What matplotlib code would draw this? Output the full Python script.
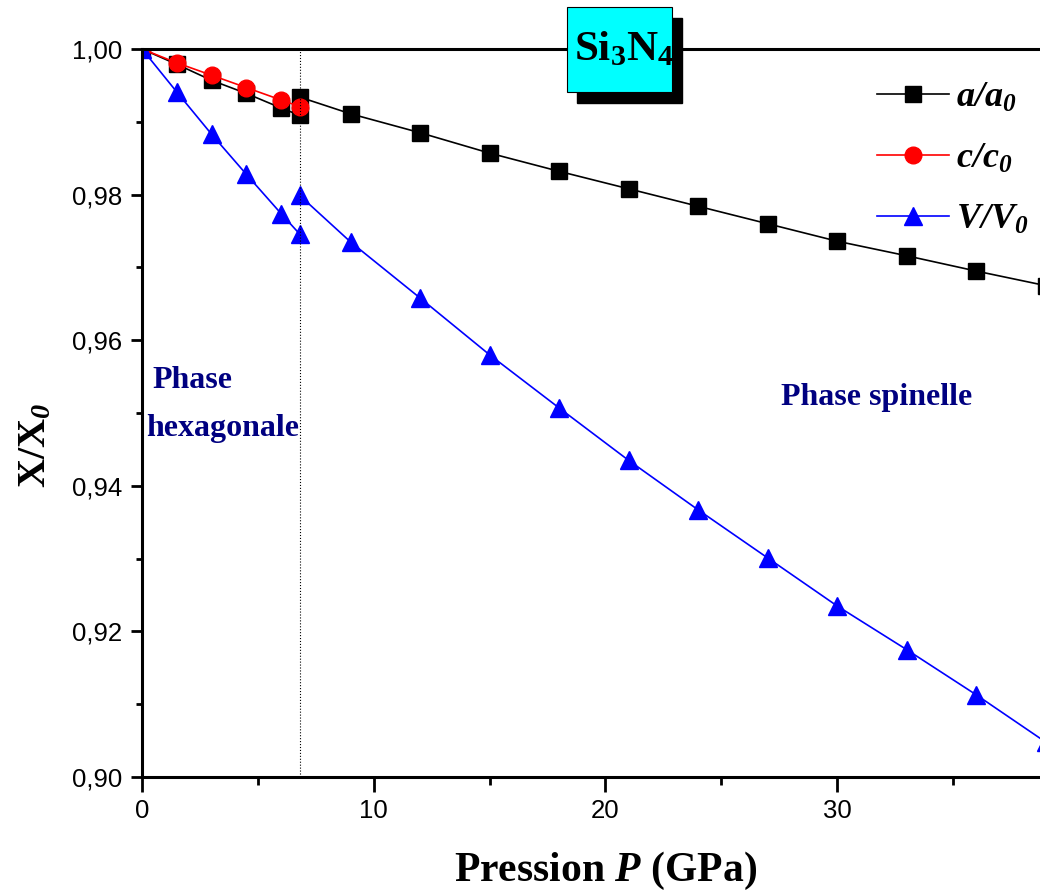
'''Si3N4 lattice parameters vs pressure'''
import matplotlib
matplotlib.use('Agg')
import matplotlib.pyplot as plt
from matplotlib.patches import Rectangle
from matplotlib.ticker import MultipleLocator, FuncFormatter

plt.rcParams['mathtext.fontset'] = 'custom'
plt.rcParams['mathtext.rm'] = 'Liberation Serif:bold'
plt.rcParams['mathtext.it'] = 'Liberation Serif:italic:bold'
plt.rcParams['mathtext.bf'] = 'Liberation Serif:bold'
plt.rcParams['mathtext.sf'] = 'Liberation Serif:italic:bold'

# hexagonal phase
p_hex = [0, 1.5, 3, 4.5, 6, 6.8]
a_hex = [1.0, 0.9979, 0.9957, 0.9939, 0.9919, 0.9909]
c_hex = [1.0, 0.9981, 0.9964, 0.9947, 0.9930, 0.9921]
v_hex = [1.0, 0.9941, 0.9883, 0.9828, 0.9774, 0.9746]

# spinel phase
p_sp = [6.8, 9, 12, 15, 18, 21, 24, 27, 30, 33, 36, 39]
a_sp = [0.9934, 0.9911, 0.9885, 0.9857, 0.9832, 0.9808, 0.9784, 0.9760,
        0.9736, 0.9716, 0.9695, 0.9675]
v_sp = [0.9799, 0.9735, 0.9658, 0.9580, 0.9507, 0.9435, 0.9367, 0.9301,
        0.9235, 0.9175, 0.9113, 0.9048]

p_transition = 6.8
x_ticks = [0, 10, 20, 30]

fig = plt.figure(figsize=(10.4, 8.94), dpi=100)
ax = fig.add_axes([142/1040, 117/894, 926.8/1040, 728/894])

navy = '#000080'
ax.plot(p_hex, a_hex, color='black', lw=1.2, marker='s', ms=11, label=r'$\mathsf{a/a_0}$')
ax.plot(p_sp, a_sp, color='black', lw=1.2, marker='s', ms=11)
ax.plot(p_hex, c_hex, color='red', lw=1.2, marker='o', ms=12, label=r'$\mathsf{c/c_0}$')
ax.plot(p_hex, v_hex, color='blue', lw=1.2, marker='^', ms=13, label=r'$\mathsf{V/V_0}$')
ax.plot(p_sp, v_sp, color='blue', lw=1.2, marker='^', ms=13)
ax.axvline(p_transition, color='black', lw=0.8, ls=':')

ax.set_xlim(0, 40)
ax.set_ylim(0.90, 1.00)
ax.set_xticks(x_ticks)
ax.xaxis.set_minor_locator(MultipleLocator(5))
ax.yaxis.set_major_locator(MultipleLocator(0.02))
ax.yaxis.set_minor_locator(MultipleLocator(0.01))
ax.yaxis.set_major_formatter(FuncFormatter(lambda v, pos: ('%.2f' % v).replace('.', ',')))

for s in ['left', 'bottom', 'top']:
    ax.spines[s].set_linewidth(2.2)
ax.spines['right'].set_visible(False)
ax.tick_params(axis='both', which='both', direction='out', width=2, top=False, right=False)
ax.tick_params(axis='x', which='major', length=11, pad=5)
ax.tick_params(axis='x', which='minor', length=6)
ax.tick_params(axis='y', which='major', length=8, pad=6)
ax.tick_params(axis='y', which='minor', length=4)
for lab in ax.get_xticklabels() + ax.get_yticklabels():
    lab.set_fontfamily('Liberation Sans')
    lab.set_fontsize(18.5)

ax.set_xlabel(r'Pression $\mathsf{P}$ (GPa)', fontfamily='Liberation Serif', fontweight='bold',
              fontsize=30, labelpad=19)
ax.set_ylabel(r'$\mathrm{X/X}_{\mathsf{0}}$', fontsize=29)
ax.yaxis.set_label_coords(-0.095, 0.455)

ax.text(0.47, 0.9545, 'Phase', color=navy, fontfamily='Liberation Serif', fontweight='bold',
        fontsize=23, va='center')
ax.text(0.17, 0.9479, 'hexagonale', color=navy, fontfamily='Liberation Serif', fontweight='bold',
        fontsize=23, va='center')
ax.text(27.6, 0.9521, 'Phase spinelle', color=navy, fontfamily='Liberation Serif',
        fontweight='bold', fontsize=23, va='center')

fig.patches.append(Rectangle((577/1040, 1-103/894), 105/1040, 85/894, transform=fig.transFigure,
                             facecolor='black', edgecolor='black', zorder=10))
fig.patches.append(Rectangle((567/1040, 1-92/894), 105/1040, 85/894, transform=fig.transFigure,
                             facecolor='#00FFFF', edgecolor='black', lw=0.8, zorder=11))
fig.text(624/1040, 1-48/894, r'$\mathbf{Si_3N_4}$', fontsize=31, ha='center', va='center', zorder=12)

ax.legend(loc='upper left', bbox_to_anchor=(859/1040, 1-62/894), bbox_transform=fig.transFigure,
          frameon=False, fontsize=26, handlelength=2.0, handletextpad=0.2, labelspacing=0.74,
          borderpad=0)

fig.savefig('out.png', dpi=100)
